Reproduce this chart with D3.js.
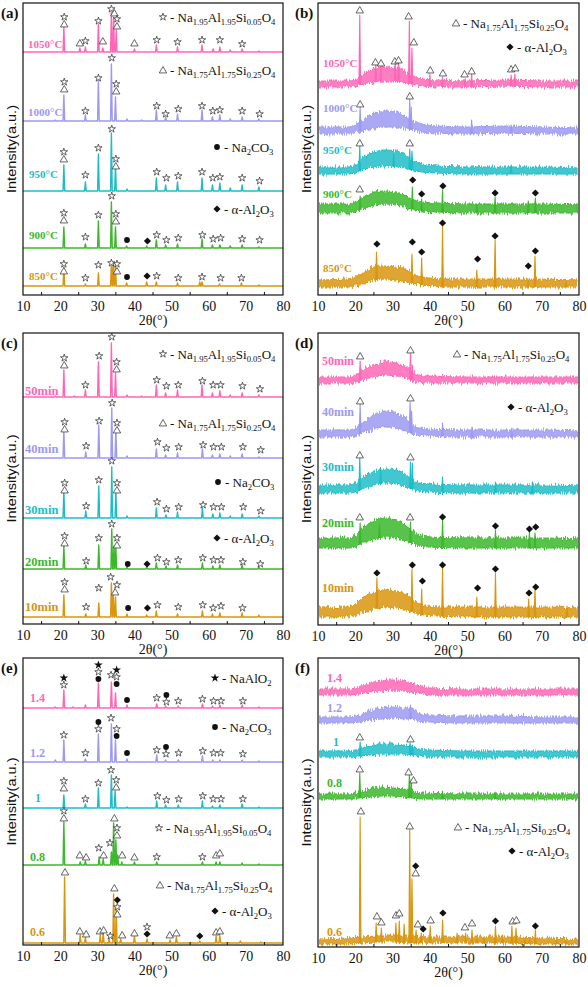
<!DOCTYPE html>
<html><head><meta charset="utf-8">
<script src="https://cdn.jsdelivr.net/npm/d3@7/dist/d3.min.js"></script>
<style>body{margin:0;background:#fff} svg{display:block}</style>
</head><body>
<svg id="fig" width="588" height="987"></svg>
<script>
// ---------------- DATA ----------------
const xTickValues = [10, 20, 30, 40, 50, 60, 70, 80];
const xMinorTicks = [15, 25, 35, 45, 55, 65, 75];
const tempLabels = ["1050°C", "1000°C", "950°C", "900°C", "850°C"];
const timeLabels = ["50min", "40min", "30min", "20min", "10min"];
const ratioLabels = ["1.4", "1.2", "1", "0.8", "0.6"];

// (a) calcination temperature, crystalline patterns: [2θ, intensity]
const aOffsets = [243, 174, 104, 47, 9];
const aPeaks = [
  [[21,25],[25.3,4],[26.8,5],[30.3,28],[31.5,4],[33.8,40],[34.4,34],[35.1,22],[40,3],[45.9,7],[51.6,5],[58.2,7],[61.2,3],[63,5],[65.8,2],[69,3],[73.5,1]],
  [[18.7,1],[21,26],[26.8,6],[30.3,41],[33.8,57],[34.9,24],[38,2],[41.9,1],[45.9,11],[48.4,4],[51.6,7],[58.2,11],[61,4],[63,6],[65.8,2],[69,4],[73.5,2]],
  [[21,26],[26.8,9],[30.3,37],[33.8,58],[34.9,26],[38,2],[45.9,13],[48.4,6],[51.6,9],[58.2,13],[61,6],[63,8],[65.8,3],[69,6],[73.5,4]],
  [[21,21],[26.8,4],[30.3,27],[33.8,46],[34.9,21],[37.9,2],[43.3,2],[45.9,8],[48.4,3],[51.6,4],[58.2,9],[61,3],[63,3],[65.8,2],[69,3],[73.5,1]],
  [[21,19],[26.8,2],[30.3,13],[33.8,24],[34.3,22],[34.9,21],[37.9,3],[43.3,4],[45.9,4],[51.6,3],[57.6,4],[58.2,4],[62.9,2],[68.8,3],[73.5,1]]
];
// marks: [2θ, level of lowest symbol, symbols top→bottom]  s=☆ S=★ t=△ c=● d=◆
const aMarks = [
  [[21.1,28,"st"],[25.3,9,"t"],[26.8,11,"s"],[30.3,31,"s"],[31.5,11,"t"],[33.8,43,"s"],[34.6,39,"t"],[35.3,26,"st"],[40,9,"t"],[46,12,"s"],[51.6,10,"s"],[58.2,12,"s"],[63,12,"s"],[69,8,"s"]],
  [[21.1,32,"st"],[26.8,10,"s"],[30.3,43,"s"],[33.9,63,"s"],[35.1,30,"st"],[46,15,"s"],[48.4,7,"s"],[51.8,12,"s"],[58.2,15,"s"],[61.1,10,"s"],[63,11,"s"],[69,10,"s"],[73.7,7,"s"]],
  [[21,32,"st"],[26.8,16,"s"],[30.3,43,"s"],[33.9,62,"s"],[35,25,"st"],[46,19,"s"],[48.6,13,"s"],[51.8,15,"s"],[58.2,19,"s"],[61.1,13,"s"],[63,14,"s"],[69,13,"s"],[73.7,10,"s"]],
  [[21,28,"st"],[26.8,11,"s"],[30.3,33,"s"],[33.9,52,"s"],[35,27,"st"],[38,8,"c"],[43.5,7,"d"],[46,13,"s"],[48.6,8,"s"],[51.8,10,"s"],[58.3,13,"s"],[61.2,9,"s"],[63.2,10,"s"],[69,9,"s"],[73.7,8,"s"]],
  [[21,15,"st"],[26.8,8,"s"],[30.3,21,"s"],[33.8,23,"s"],[35.3,15,"st"],[38,9,"c"],[43.4,10,"d"],[46,10,"s"],[51.8,8,"s"],[58.2,9,"s"],[63.2,8,"s"],[68.8,8,"s"]]
];

// (b) residue patterns: noise band [2θ, low, high] + peaks
const bOffsets = [208, 161, 121, 82, 8];
const bBands = [
  [[10,0,6],[18,0,6],[20,1,7],[22,3,12],[25,5,18],[28,6,20],[31,6,19],[33,5,16],[35,3,12],[38,1,8],[42,0,7],[50,0,6],[60,1,7],[70,0,6],[80,0,6]],
  [[10,0,7],[18,0,7],[20,1,9],[22,3,14],[25,6,20],[28,7,23],[31,7,22],[33,6,19],[35,4,14],[38,2,10],[42,1,8],[50,0,7],[60,1,8],[70,0,7],[80,0,6]],
  [[10,0,7],[18,0,7],[20,1,9],[22,4,16],[25,7,22],[28,8,24],[31,7,23],[33,6,20],[35,4,15],[38,2,10],[42,1,8],[50,0,7],[60,0,7],[70,0,7],[80,0,6]],
  [[10,0,9],[18,0,9],[20,1,11],[22,4,15],[25,8,21],[28,9,22],[31,8,21],[33,6,18],[35,4,14],[38,2,11],[42,1,10],[50,0,9],[60,0,9],[70,0,9],[80,0,8]],
  [[10,0,7],[18,0,8],[20,1,10],[22,3,14],[25,7,20],[28,8,21],[31,7,20],[34,5,17],[36,3,12],[40,1,9],[45,0,8],[55,0,8],[65,0,8],[80,0,7]]
];
const bPeaks = [
  [[21.2,72],[25.5,24],[26.8,20],[30.7,25],[31.6,26],[34.5,66],[35.2,39],[40,13],[43.4,10],[49.4,8],[51.2,14],[61.8,12],[62.8,13]],
  [[21.3,27],[34.6,35],[35.0,27],[51.2,14],[61.8,9]],
  [[21.2,28],[30.3,20],[34.6,25],[35.2,23],[61.8,9]],
  [[21.3,17],[35.3,26],[37.8,14],[43.4,23],[52.6,9],[57.5,16],[66.4,12],[68.3,15]],
  [[25.7,35],[35.2,33],[37.8,29],[43.4,61],[52.6,17],[57.5,47],[66.4,7],[68.2,31],[76.5,5]]
];
const bMarks = [
  [[21.2,77,"t"],[34.3,71,"t"],[35.7,45,"t"],[25.4,25,"t"],[26.9,24,"t"],[30.6,26,"t"],[31.6,27,"t"],[40.1,17,"t"],[43.5,14,"t"],[49.3,13,"t"],[51.2,16,"t"],[61.8,18,"t"],[62.9,19,"t"]],
  [[21.3,30,"t"],[34.6,38,"t"]],
  [[21.2,31,"t"],[34.6,31,"t"]],
  [[21.2,24,"t"],[35.4,33,"d"],[37.8,19,"d"],[43.5,27,"d"],[57.5,20,"d"],[68.3,20,"d"]],
  [[25.8,43,"d"],[35.3,45,"d"],[37.8,35,"d"],[43.4,64,"d"],[52.8,28,"d"],[57.5,51,"d"],[66.4,21,"d"],[68.3,36,"d"]]
];

// (c) calcination time, crystalline patterns
const cOffsets = [227, 166, 106, 55, 7];
const cPeaks = [
  [[18.7,1],[21,27],[23.8,1],[26.8,7],[30.3,35],[33.8,54],[34.9,24],[38,2],[41.9,1],[45.9,12],[48.4,4],[51.6,7],[58.2,12],[61,4],[63,6],[65.8,2],[69,4],[73.5,2]],
  [[21,28],[26.9,6],[30.4,33],[33.9,50],[35,28],[38,2],[45.9,9],[48.4,3],[51.6,5],[58.3,9],[61,3],[63,4],[65.8,2],[69,4],[73.5,1]],
  [[21,27],[26.9,7],[30.4,32],[33.9,51],[35,27],[38,2],[45.9,10],[48.5,3],[51.6,6],[58.3,10],[61.1,4],[63,5],[65.8,2],[69,4],[73.5,2]],
  [[21,23],[26.9,4],[30.4,24],[33.9,40],[34.5,23],[35,21],[38,2],[43.3,2],[45.9,6],[48.5,3],[51.6,4],[58.3,6],[61.1,3],[63,4],[69,4],[73.5,2]],
  [[21,22],[26.9,3],[30.4,14],[33.8,34],[34.3,23],[34.9,20],[38,3],[43.3,2],[45.9,6],[51.6,3],[58.3,6],[61,3],[63,4],[69,4],[73.5,2]]
];
const cMarks = [
  [[21.1,32,"st"],[26.8,12,"s"],[30.5,41,"s"],[33.9,60,"s"],[35.2,28,"st"],[46,17,"s"],[48.6,11,"s"],[51.8,12,"s"],[58.3,16,"s"],[61.2,12,"s"],[63.2,12,"s"],[69.1,11,"s"],[73.8,8,"s"]],
  [[21.2,29,"st"],[27,12,"s"],[30.5,37,"s"],[34,55,"s"],[35.3,28,"st"],[46.2,16,"s"],[48.6,10,"s"],[51.9,11,"s"],[58.5,13,"s"],[61.3,11,"s"],[63.4,11,"s"],[69.2,11,"s"],[74,8,"s"]],
  [[21.2,28,"st"],[27,12,"s"],[30.4,38,"s"],[33.9,57,"s"],[35.3,28,"st"],[46.1,16,"s"],[48.6,9,"s"],[51.9,11,"s"],[58.5,13,"s"],[61.3,11,"s"],[63.4,11,"s"],[69.3,11,"s"],[74,7,"s"]],
  [[21.2,26,"st"],[27,8,"s"],[30.4,31,"s"],[33.9,45,"s"],[35.3,24,"st"],[38.2,5,"c"],[43.4,5,"d"],[46.2,11,"s"],[48.6,7,"s"],[51.8,9,"s"],[58.4,11,"s"],[61.3,9,"s"],[63.3,9,"s"],[69.2,7,"s"],[73.9,5,"s"]],
  [[21.2,28,"st"],[27,10,"s"],[30.4,29,"s"],[33.6,40,"s"],[35.3,32,"s"],[34.8,25,"t"],[38.3,9,"c"],[43.5,9,"d"],[46.2,12,"s"],[51.8,10,"s"],[58.4,12,"s"],[61.2,9,"s"],[63.3,11,"s"],[69.1,9,"s"]]
];

// (d) residue patterns vs time
const dOffsets = [242, 188, 132, 77, 8];
const dBands = [
  [[10,0,6],[18,0,6],[20,1,8],[22,3,13],[25,6,18],[28,8,21],[31,7,20],[33,6,18],[35,3,12],[37,1,8],[40,0,7],[50,0,6],[60,0,6],[70,0,6],[80,0,6]],
  [[10,0,7],[18,0,7],[20,1,9],[22,4,15],[25,8,22],[28,10,26],[31,9,24],[33,7,20],[35,4,13],[37,2,9],[40,1,8],[50,0,7],[60,0,7],[70,0,7],[80,0,6]],
  [[10,0,8],[18,0,8],[20,1,10],[22,4,16],[25,8,21],[28,10,24],[31,9,23],[33,7,20],[35,4,14],[37,2,10],[40,1,9],[50,0,8],[60,0,8],[70,0,8],[80,0,7]],
  [[10,0,10],[18,0,10],[20,1,12],[22,5,20],[25,9,27],[28,11,30],[31,10,28],[33,8,24],[35,5,18],[37,2,13],[40,1,11],[50,0,10],[60,0,10],[70,0,10],[80,0,9]],
  [[10,0,9],[18,0,10],[20,2,13],[22,5,19],[25,8,24],[28,10,27],[31,9,26],[34,7,22],[36,4,16],[38,2,12],[42,1,10],[50,0,10],[60,0,10],[70,0,10],[80,0,9]]
];
const dPeaks = [
  [[21.3,22],[34.8,31],[35.3,18]],
  [[21.3,33],[34.7,35],[35.1,26],[43.4,14],[51.3,10],[62,9]],
  [[21.2,36],[26.8,25],[34.8,31],[35.3,30],[43.4,16],[57.6,11],[67.5,11]],
  [[21.3,25],[26.5,24],[34.8,26],[43.4,28],[57.6,18],[66.7,16],[68.2,15]],
  [[25.8,39],[35.2,48],[37.8,28],[43.4,49],[52.6,20],[57.6,44],[66.5,18],[68.2,28],[76.8,11]]
];
const dMarks = [
  [[21.3,27,"t"],[34.8,33,"t"]],
  [[21.3,36,"t"],[34.8,39,"t"]],
  [[21.2,38,"t"],[34.8,36,"t"]],
  [[21.2,31,"t"],[34.7,31,"t"],[43.4,31,"d"],[57.6,22,"d"],[66.7,19,"d"],[68.4,21,"d"]],
  [[25.8,44,"d"],[35.3,52,"d"],[38,36,"d"],[43.4,52,"d"],[52.8,29,"d"],[57.6,48,"d"],[66.6,24,"d"],[68.4,30,"d"]]
];

// (e) Na/Al ratio, crystalline patterns
const eOffsets = [237, 183, 137, 80, 2];
const ePeaks = [
  [[18.7,1],[21,18],[23.5,1],[26.8,3],[30.3,25],[33.8,26],[34.9,15],[38,3],[46,4],[48.4,2],[51.8,2],[58.3,4],[61,2],[63,3],[69,3],[73.5,1]],
  [[18.7,2],[21,22],[26.8,3],[30.3,28],[33.8,38],[34.9,22],[38,3],[46,7],[48.4,2],[51.8,2],[58.3,6],[61.1,2],[63,2],[69,2],[73.5,1]],
  [[21,13],[26.8,4],[30.3,20],[33.8,33],[34.8,17],[38,1],[46,7],[48.4,3],[51.8,3],[58.3,7],[61,2],[63,3],[69,4],[73.5,1]],
  [[21,43],[25.4,3],[26.8,4],[30.5,8],[31.6,6],[33.8,13],[34.4,42],[35,25],[35.5,10],[36.6,3],[40,3],[46,3],[58.3,3],[62,3],[63,3],[69,2],[73.5,1]],
  [[21.2,66],[25.4,8],[26.8,6],[30.8,8],[31.6,10],[33.2,4],[34.4,49],[35.1,35],[36.3,4],[40,7],[43.4,4],[49.6,3],[51.3,6],[57.6,2],[62,7],[63,7],[68.5,2],[74,1]]
];
const eMarks = [
  [[21,23,"Ss"],[30.3,29,"Ssc"],[33.7,33,"s"],[35.2,24,"Ssc"],[38,8,"c"],[46,10,"s"],[48.6,6,"cs"],[51.8,7,"s"],[58.3,9,"s"],[61.3,7,"s"],[63.3,7,"s"],[69.2,7,"s"]],
  [[21,27,"s"],[26.8,9,"s"],[30.3,33,"cs"],[33.7,44,"s"],[35.2,26,"sc"],[38,9,"c"],[46,12,"s"],[48.5,8,"cs"],[51.9,9,"s"],[58.4,11,"s"],[61.3,9,"s"],[63.2,9,"s"],[69.2,8,"s"]],
  [[21,20,"st"],[26.8,9,"s"],[30.3,25,"s"],[33.7,38,"s"],[35.1,21,"st"],[46.2,12,"s"],[48.6,8,"s"],[51.9,9,"s"],[58.4,12,"s"],[61.2,9,"s"],[63.3,9,"s"],[69.2,9,"s"]],
  [[21,47,"st"],[25.3,10,"t"],[27,8,"t"],[30.4,17,"s"],[31.7,10,"t"],[33.4,22,"s"],[34.6,47,"t"],[35.3,30,"st"],[36.7,10,"t"],[40,8,"t"],[46,8,"s"],[58.3,8,"s"],[62,10,"t"],[63,12,"t"]],
  [[21.3,71,"t"],[34.6,55,"t"],[35.4,29,"dst"],[25.3,12,"t"],[27,9,"t"],[30.7,12,"t"],[31.7,13,"t"],[33.5,7,"s"],[36.7,8,"t"],[40,10,"t"],[43.4,9,"sd"],[49.5,8,"t"],[51.3,10,"t"],[57.6,7,"d"],[62,11,"t"],[63,12,"t"]]
];

// (f) residue patterns vs ratio
const fOffsets = [252, 224, 190, 148, 3];
const fBands = [
  [[10,0,6],[18,0,6],[21,1,8],[24,3,12],[27,4,14],[30,5,15],[33,4,14],[35,3,12],[37,2,9],[40,0,7],[50,0,6],[60,0,6],[70,0,6],[80,0,6]],
  [[10,0,6],[18,0,6],[21,1,8],[24,3,12],[27,4,15],[30,5,17],[33,4,15],[35,4,15],[37,2,10],[40,1,8],[50,0,7],[60,0,7],[70,0,6],[80,0,6]],
  [[10,0,6],[18,0,6],[21,1,8],[24,2,11],[27,3,13],[30,3,13],[33,3,12],[35,2,11],[37,1,8],[40,0,7],[50,0,6],[60,0,6],[70,0,6],[80,0,6]],
  [[10,0,5],[18,0,5],[21,1,7],[24,2,10],[27,3,12],[30,3,11],[33,2,10],[35,1,8],[38,0,6],[50,0,5],[60,0,5],[70,0,5],[80,0,5]],
  [[10,0,5],[18,0,6],[22,1,7],[26,2,8],[30,2,8],[34,1,8],[40,1,7],[50,1,7],[60,1,7],[70,0,6],[80,0,5]]
];
const fPeaks = [
  [],
  [[34.8,18]],
  [[21.3,15],[34.7,14],[35.3,12]],
  [[21.2,26],[34.5,24],[35,19],[43.4,8],[57.5,7]],
  [[21.3,127],[25.6,21],[27,16],[30.9,21],[31.8,23],[33.1,20],[34.6,116],[35.2,65],[36.3,14],[37.7,11],[40.1,18],[43.4,24],[47.3,11],[49.6,11],[51.3,14],[52.6,6],[54.5,7],[57.6,18],[59.5,9],[62,18],[63.1,16],[65.5,6],[66.7,5],[68.3,14],[74,5],[76.5,4]]
];
const fMarks = [
  [],
  [],
  [[21.2,20,"t"],[34.8,18,"t"]],
  [[21.2,30,"t"],[34.3,27,"t"],[35.6,19,"t"]],
  [[21.5,133,"t"],[34.6,118,"t"],[36.2,71,"dt"],[25.8,28,"t"],[27,22,"t"],[30.9,29,"t"],[31.8,31,"t"],[36.8,20,"t"],[38.2,15,"d"],[40.2,24,"t"],[43.5,31,"d"],[49.4,17,"t"],[51.3,21,"t"],[57.6,23,"d"],[62.2,23,"t"],[63.2,24,"t"],[68.3,18,"d"]]
];

const phaseStar = "- Na_{1.95}Al_{1.95}Si_{0.05}O_{4}";
const phaseTri = "- Na_{1.75}Al_{1.75}Si_{0.25}O_{4}";
const phaseCarb = "- Na_{2}CO_{3}";
const phaseAlumina = "- α-Al_{2}O_{3}";
const phaseAluminate = "- NaAlO_{2}";

// ---------------- LAYOUT / STYLE ----------------
const colors = ["#FF66B6", "#9C99F2", "#1DBDC7", "#3BB82B", "#D9950E"];
const SERIF = "'Liberation Serif','Times New Roman',serif";
const SANS = "'Liberation Sans',Arial,sans-serif";
const L = {x0: 23, x1: 283}, R = {x0: 318, x1: 579};

const panels = [
  {tag: "(a)", box: L, y0: 3, y1: 295, tagX: 1, names: tempLabels, nameSize: 11, offsets: aOffsets, peaks: aPeaks, marks: aMarks,
   nameX: [28,28,29,29,29], nameY: [44,112,174,235,276],
   legend: [["s",163,17,phaseStar],["t",163,70,phaseTri],["c",217,147,phaseCarb],["d",217,209,phaseAlumina]]},
  {tag: "(b)", box: R, y0: 3, y1: 295, tagX: 295, names: tempLabels, nameSize: 11, offsets: bOffsets, peaks: bPeaks, marks: bMarks, bands: bBands,
   nameX: [323,323,323,323,323], nameY: [63,108,150,194,268],
   legend: [["t",456,23,phaseTri],["d",510,47,phaseAlumina]]},
  {tag: "(c)", box: L, y0: 333, y1: 624, tagX: 1, names: timeLabels, nameSize: 12.5, offsets: cOffsets, peaks: cPeaks, marks: cMarks,
   nameX: [25,25,25,25,25], nameY: [391,449,510,562,607],
   legend: [["s",163,354,phaseStar],["t",163,423,phaseTri],["c",218,482,phaseCarb],["d",217,538,phaseAlumina]]},
  {tag: "(d)", box: R, y0: 333, y1: 625, tagX: 295, names: timeLabels, nameSize: 12, offsets: dOffsets, peaks: dPeaks, marks: dMarks, bands: dBands,
   nameX: [322,322,322,322,322], nameY: [361,412,467,523,588],
   legend: [["t",457,354,phaseTri],["d",511,407,phaseAlumina]]},
  {tag: "(e)", box: L, y0: 658, y1: 945, tagX: 1, names: ratioLabels, nameSize: 12, offsets: eOffsets, peaks: ePeaks, marks: eMarks,
   nameX: [30,30,35,30,30], nameY: [698,753,798,857,932],
   legend: [["S",215,678,phaseAluminate],["c",215,727,phaseCarb],["s",159,828,phaseStar],["t",160,885,phaseTri],["d",215,911,phaseAlumina]]},
  {tag: "(f)", box: R, y0: 658, y1: 947, tagX: 295, names: ratioLabels, nameSize: 12, offsets: fOffsets, peaks: fPeaks, marks: fMarks, bands: fBands,
   nameX: [327,327,333,327,327], nameY: [678,708,742,783,932],
   legend: [["t",458,827,phaseTri],["d",512,851,phaseAlumina]]}
];

const svg = d3.select("#fig");
svg.append("rect").attr("width", 588).attr("height", 987).attr("fill", "#fff");

// texture filter giving the amorphous bands a ragged, noisy edge
const defs = svg.append("defs");
const flt = defs.append("filter").attr("id", "rough")
  .attr("x", "-2%").attr("y", "-60%").attr("width", "104%").attr("height", "220%");
flt.append("feTurbulence").attr("type", "fractalNoise").attr("baseFrequency", "1.1 0.04")
  .attr("numOctaves", 2).attr("seed", 3).attr("result", "n");
flt.append("feDisplacementMap").attr("in", "SourceGraphic").attr("in2", "n")
  .attr("scale", 7).attr("xChannelSelector", "R").attr("yChannelSelector", "G");

function drawSymbol(g, code, cx, cy) {
  const open = code === "s" || code === "t";
  let type = d3.symbolStar, size = 17, rot = 0;
  if (code === "t") { type = d3.symbolTriangle; size = 24; }
  if (code === "c") { type = d3.symbolCircle; size = 26; }
  if (code === "d") { type = d3.symbolSquare; size = 26; rot = 45; }
  if (code === "S") { type = d3.symbolStar; size = 24; }
  g.append("path")
    .attr("d", d3.symbol(type, size)())
    .attr("transform", `translate(${cx},${cy + (code === "t" ? 0.8 : 0)}) rotate(${rot})`)
    .attr("fill", open ? "#fff" : "#111")
    .attr("stroke", open ? "#333" : "none")
    .attr("stroke-width", 0.75);
}

function richText(g, str, x, y, size) {
  const t = g.append("text").attr("x", x).attr("y", y)
    .attr("font-family", SERIF).attr("font-size", size).attr("fill", "#111");
  const re = /_\{([^}]*)\}/g;
  let last = 0, m, sub = false;
  const sh = size * 0.28;
  while ((m = re.exec(str))) {
    if (m.index > last) {
      t.append("tspan").attr("dy", sub ? -sh : 0).text(str.slice(last, m.index));
      sub = false;
    }
    t.append("tspan").attr("dy", sub ? 0 : sh).attr("font-size", size * 0.66).text(m[1]);
    sub = true;
    last = re.lastIndex;
  }
  if (last < str.length) t.append("tspan").attr("dy", sub ? -sh : 0).text(str.slice(last));
}

function interpLow(band, p) {
  for (let i = 1; i < band.length; i++) {
    if (p <= band[i][0]) {
      const a = band[i - 1], b = band[i];
      const f = (p - a[0]) / (b[0] - a[0]);
      return a[1] + f * (b[1] - a[1]);
    }
  }
  return band[band.length - 1][1];
}

panels.forEach((P, pi) => {
  const g = svg.append("g");
  const x = d3.scaleLinear().domain([10, 80]).range([P.box.x0, P.box.x1]);
  const y = d3.scaleLinear().domain([0, P.y1 - P.y0]).range([P.y1, P.y0]);
  const w = 0.22;
  const clipId = "clip" + pi;
  defs.append("clipPath").attr("id", clipId).append("rect")
    .attr("x", P.box.x0 + 1).attr("y", P.y0).attr("width", P.box.x1 - P.box.x0 - 2).attr("height", P.y1 - P.y0);

  // traces
  P.offsets.forEach((off, i) => {
    const col = colors[i];
    const pk = P.peaks[i].slice().sort((a, b) => a[0] - b[0]);
    if (P.bands) {
      const band = P.bands[i];
      g.append("g").attr("clip-path", `url(#${clipId})`).append("path").datum(band)
        .attr("d", d3.area().x(d => x(d[0])).y0(d => y(off + d[1])).y1(d => y(off + d[2])).curve(d3.curveMonotoneX))
        .attr("fill", col).attr("fill-opacity", 0.85)
        .attr("stroke", col).attr("stroke-width", 1)
        .attr("filter", "url(#rough)");
      pk.forEach(([p, h]) => {
        const base = interpLow(band, p);
        g.append("path")
          .attr("d", d3.line()([[x(p - w), y(off + base)], [x(p), y(off + h)], [x(p + w), y(off + base)]]))
          .attr("fill", col).attr("stroke", col).attr("stroke-width", 1.1).attr("stroke-linejoin", "round");
      });
    } else {
      const pts = [[10, 0]];
      pk.forEach(([p, h]) => pts.push([p - w, 0], [p, h], [p + w, 0]));
      pts.push([80, 0]);
      g.append("path").datum(pts)
        .attr("d", d3.line().x(d => x(d[0])).y(d => y(off + d[1])))
        .attr("fill", "none").attr("stroke", col).attr("stroke-width", 1.4).attr("stroke-linejoin", "round");
    }
    // phase markers
    P.marks[i].forEach(([p, lvl, codes]) => {
      const n = codes.length;
      for (let k = 0; k < n; k++) {
        drawSymbol(g, codes[k], x(p), y(off + lvl) - (n - 1 - k) * 7);
      }
    });
    // trace label
    g.append("text").attr("x", P.nameX[i]).attr("y", P.nameY[i]).attr("dy", "0.35em")
      .attr("font-family", SERIF).attr("font-weight", "bold").attr("font-size", P.nameSize)
      .attr("fill", col).text(P.names[i]);
  });

  // legend
  P.legend.forEach(([code, lx, ly, txt]) => {
    drawSymbol(g, code, lx, ly);
    richText(g, txt, lx + 7, ly + 4.5, 13);
  });

  // frame
  g.append("rect").attr("x", P.box.x0).attr("y", P.y0)
    .attr("width", P.box.x1 - P.box.x0).attr("height", P.y1 - P.y0)
    .attr("fill", "none").attr("stroke", "#111").attr("stroke-width", 1.2);

  // x axis
  const ax = g.append("g").attr("transform", `translate(0,${P.y1})`)
    .call(d3.axisBottom(x).tickValues(xTickValues).tickSize(0).tickPadding(6).tickFormat(d3.format("d")));
  ax.select(".domain").remove();
  ax.selectAll("text").attr("font-family", SERIF).attr("font-size", 14).attr("fill", "#111");
  g.selectAll(null).data(xMinorTicks).enter().append("line")
    .attr("x1", d => x(d)).attr("x2", d => x(d))
    .attr("y1", P.y1).attr("y2", P.y1 - 3)
    .attr("stroke", "#111").attr("stroke-width", 1);
  g.append("text").attr("x", (P.box.x0 + P.box.x1) / 2).attr("y", P.y1 + 30)
    .attr("text-anchor", "middle").attr("font-family", SERIF).attr("font-size", 14).attr("fill", "#111")
    .text("2θ(°)");

  // y title
  const cy = (P.y0 + P.y1) / 2, tx = P.box.x0 - 7;
  g.append("text").attr("transform", `translate(${tx},${cy}) rotate(-90)`)
    .attr("text-anchor", "middle").attr("fill", "#111").attr("font-family", SANS).attr("font-size", 13)
    .attr("textLength", 88).attr("lengthAdjust", "spacingAndGlyphs")
    .text("Intensity(a.u.)");

  // panel tag
  g.append("text").attr("x", P.tagX).attr("y", P.y0 + 15)
    .attr("font-family", SERIF).attr("font-weight", "bold").attr("font-size", 15).attr("fill", "#111")
    .text(P.tag);
});
</script>
</body></html>
